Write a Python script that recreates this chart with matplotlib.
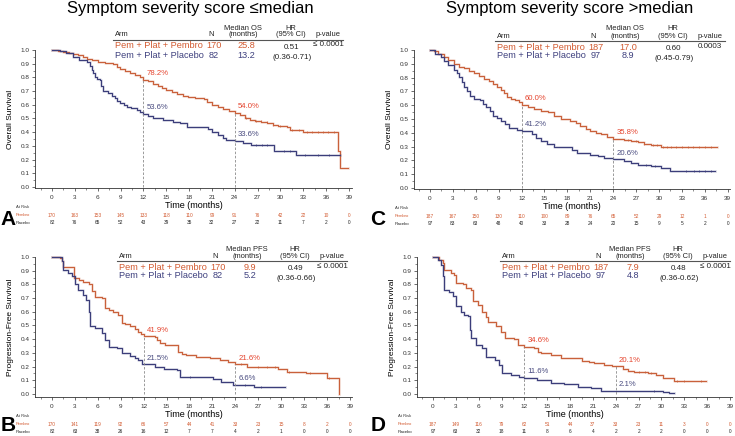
import numpy as np
import matplotlib
matplotlib.use("Agg")
import matplotlib.pyplot as plt
from matplotlib.ticker import MultipleLocator

plt.rcParams['font.family'] = ['Liberation Sans', 'DejaVu Sans']

PEMBRO = '#C9603A'
PLACEBO = '#3B3D7A'
PEMBRO_TXT = '#D25A30'
PLACEBO_TXT = '#3E407E'
PCT_RED = '#E5442E'
PCT_NAVY = '#4A4C80'

# ---- data ----
risk_times = list(range(0, 40, 3))

# A : OS, score <= median
a_pem_t = [0, 0.8, 1.5, 2.2, 2.8, 3.4, 4.1, 4.6, 5.2, 6.1, 7.0, 8.0, 8.5, 8.9, 9.6, 10.2, 10.9, 11.5, 12.0,
           12.6, 13.3, 13.9, 14.5, 15.0, 15.7, 16.4, 17.2, 17.8, 18.8, 19.9, 20.4, 21.0, 21.8, 22.5, 23.2,
           24.0, 24.7, 25.4, 26.0, 26.6, 27.5, 28.3, 29.0, 29.7, 30.8, 31.2, 32.2, 33.0, 37.5, 37.8, 38.9]
a_pem_s = [1.0, 0.995, 0.988, 0.98, 0.97, 0.96, 0.95, 0.935, 0.925, 0.91, 0.905, 0.895, 0.875, 0.86, 0.85,
           0.835, 0.82, 0.80, 0.782, 0.77, 0.755, 0.74, 0.72, 0.705, 0.69, 0.675, 0.665, 0.655, 0.65, 0.64,
           0.62, 0.60, 0.585, 0.567, 0.555, 0.54, 0.525, 0.505, 0.49, 0.482, 0.475, 0.465, 0.455, 0.445,
           0.44, 0.418, 0.416, 0.398, 0.26, 0.136, 0.136]
a_pla_t = [0, 1.0, 1.9, 2.8, 3.5, 4.55, 5.0, 5.2, 5.4, 5.7, 5.9, 6.3, 6.5, 6.7, 7.4, 7.9, 8.3, 8.6, 8.9, 9.4,
           9.8, 10.4, 11.1, 11.6, 12.0, 12.6, 13.3, 14.6, 15.9, 16.8, 17.7, 19.9, 20.5, 21.0, 21.8, 22.4,
           22.9, 24.0, 25.1, 26.2, 29.1, 32.0, 37.8]
a_pla_s = [1.0, 0.99, 0.976, 0.95, 0.93, 0.91, 0.88, 0.855, 0.83, 0.80, 0.787, 0.78, 0.74, 0.70, 0.685, 0.665,
           0.647, 0.63, 0.61, 0.595, 0.586, 0.575, 0.562, 0.55, 0.536, 0.52, 0.50, 0.489, 0.477, 0.465, 0.44,
           0.436, 0.42, 0.404, 0.38, 0.36, 0.345, 0.336, 0.32, 0.307, 0.263, 0.234, 0.234]
a_pem_cens = [25.5, 26.8, 27.4, 28.2, 29.0, 30.0, 31.5, 32.5, 33.5, 34.2, 35.0, 35.6, 36.3, 37.0]
a_pla_cens = [26.8, 27.6, 28.3, 30.5, 31.3, 33.2, 35.0, 36.4]
a_risk_pem = [170, 163, 153, 145, 133, 118, 110, 99, 91, 76, 42, 22, 10, 0]
a_risk_pla = [82, 76, 65, 52, 43, 39, 35, 32, 27, 22, 11, 7, 2, 0]
a_pct = [('78.2%', 12, 0.782, PCT_RED), ('53.6%', 12, 0.536, PCT_NAVY),
         ('54.0%', 24, 0.540, PCT_RED), ('33.6%', 24, 0.336, PCT_NAVY)]

# C : OS, score > median
c_pem_t = [0, 0.5, 1.0, 1.8, 2.4, 3.1, 3.8, 4.5, 5.1, 5.8, 6.4, 7.1, 7.7, 8.2, 8.8, 9.3, 9.7, 10.1, 10.6,
           11.2, 11.7, 12.0, 12.8, 13.6, 14.5, 15.4, 16.2, 17.1, 18.4, 19.1, 19.7, 20.4, 21.0, 21.7, 22.4,
           23.2, 24.0, 25.4, 26.3, 27.2, 28.0, 28.9, 30.2, 37.6]
c_pem_s = [1.0, 0.99, 0.97, 0.95, 0.925, 0.90, 0.88, 0.866, 0.85, 0.83, 0.81, 0.79, 0.775, 0.756, 0.73,
           0.707, 0.685, 0.66, 0.645, 0.634, 0.62, 0.60, 0.585, 0.573, 0.56, 0.549, 0.525, 0.50, 0.488, 0.47,
           0.451, 0.43, 0.415, 0.40, 0.39, 0.372, 0.358, 0.346, 0.338, 0.33, 0.32, 0.312, 0.30, 0.30]
c_pla_t = [0, 0.7, 1.4, 1.9, 2.3, 3.1, 3.5, 3.8, 4.2, 4.5, 4.9, 5.3, 5.8, 6.6, 7.0, 7.3, 7.8, 8.2, 8.8, 9.3,
           9.8, 10.3, 11.4, 12.0, 13.4, 13.9, 14.5, 15.3, 16.2, 18.0, 18.6, 19.3, 21.0, 22.0, 22.8, 24.0,
           25.4, 26.3, 27.2, 28.9, 30.2, 31.5, 37.4]
c_pla_s = [1.0, 0.97, 0.95, 0.92, 0.89, 0.855, 0.83, 0.805, 0.765, 0.73, 0.70, 0.67, 0.646, 0.64, 0.61,
           0.585, 0.555, 0.524, 0.505, 0.488, 0.46, 0.434, 0.42, 0.412, 0.39, 0.365, 0.341, 0.32, 0.298,
           0.298, 0.275, 0.256, 0.239, 0.23, 0.22, 0.206, 0.195, 0.18, 0.166, 0.159, 0.146, 0.122, 0.122]
c_pem_cens = [26.0, 27.0, 28.0, 29.2, 29.8, 30.5, 31.0, 31.6, 32.2, 33.0, 33.8, 34.5, 35.2, 36.0, 36.8]
c_pla_cens = [28.3, 29.5, 33.5, 34.6, 35.2, 36.0, 36.8]
c_risk_pem = [187, 167, 150, 130, 110, 100, 89, 76, 65, 52, 29, 12, 1, 0]
c_risk_pla = [97, 83, 63, 48, 40, 33, 28, 24, 20, 15, 9, 5, 2, 0]
c_pct = [('60.0%', 12, 0.600, PCT_RED), ('41.2%', 12, 0.412, PCT_NAVY),
         ('35.8%', 24, 0.358, PCT_RED), ('20.6%', 24, 0.206, PCT_NAVY)]

# B : PFS, score <= median
b_pem_t = [0, 1.0, 1.3, 1.5, 2.9, 3.5, 4.1, 4.8, 5.2, 5.6, 6.6, 6.9, 7.5, 8.0, 8.7, 9.1, 9.6, 10.2, 10.8,
           11.3, 11.7, 12.0, 13.5, 13.8, 14.1, 14.8, 16.5, 17.0, 17.6, 18.9, 20.7, 22.0, 23.0, 24.0, 25.5,
           27.7, 29.6, 30.7, 33.3, 36.0, 37.5]
b_pem_s = [1.0, 0.99, 0.968, 0.93, 0.846, 0.835, 0.82, 0.80, 0.75, 0.71, 0.70, 0.627, 0.615, 0.60, 0.578,
           0.517, 0.51, 0.498, 0.475, 0.456, 0.44, 0.424, 0.415, 0.395, 0.37, 0.358, 0.31, 0.295, 0.285,
           0.273, 0.26, 0.249, 0.235, 0.218, 0.20, 0.195, 0.183, 0.163, 0.156, 0.115, 0.0]
b_pla_t = [0, 1.3, 1.5, 2.1, 2.6, 3.0, 3.4, 4.1, 4.5, 4.8, 5.0, 5.6, 6.5, 6.9, 7.4, 8.5, 9.1, 10.2, 10.8,
           11.3, 11.8, 13.5, 14.6, 16.3, 16.8, 21.1, 22.1, 23.7, 26.4, 30.5]
b_pla_s = [1.0, 0.968, 0.907, 0.883, 0.858, 0.80, 0.76, 0.724, 0.688, 0.60, 0.498, 0.48, 0.444, 0.395,
           0.346, 0.334, 0.298, 0.278, 0.26, 0.249, 0.217, 0.20, 0.18, 0.176, 0.122, 0.112, 0.09, 0.068,
           0.049, 0.049]
b_pem_cens = [24.8, 27.0, 28.2, 29.2, 31.0, 33.8, 36.2]
b_pla_cens = [18.1, 25.2, 27.3]
b_risk_pem = [170, 141, 119, 92, 66, 57, 44, 41, 33, 23, 15, 8, 2, 0]
b_risk_pla = [82, 63, 38, 26, 16, 12, 7, 7, 4, 2, 1, 0, 0, 0]
b_pct = [('41.9%', 12, 0.419, PCT_RED), ('21.5%', 12, 0.215, PCT_NAVY),
         ('21.6%', 24, 0.216, PCT_RED), ('6.6%', 24, 0.066, PCT_NAVY)]

# D : PFS, score > median
d_pem_t = [0, 0.8, 1.3, 1.5, 2.4, 2.8, 3.0, 3.9, 4.3, 5.0, 5.2, 5.9, 6.5, 6.9, 7.2, 8.3, 8.9, 9.4, 10.7,
           11.1, 12.0, 13.3, 13.8, 14.2, 15.5, 16.8, 19.4, 19.6, 20.5, 21.2, 22.5, 23.5, 24.9, 25.6, 26.4,
           28.2, 29.3, 30.2, 31.7, 35.8]
d_pem_s = [1.0, 0.98, 0.956, 0.907, 0.883, 0.87, 0.81, 0.80, 0.773, 0.76, 0.676, 0.65, 0.602, 0.56, 0.529,
           0.493, 0.456, 0.407, 0.40, 0.358, 0.346, 0.334, 0.31, 0.298, 0.285, 0.266, 0.26, 0.241, 0.23,
           0.224, 0.212, 0.203, 0.18, 0.17, 0.163, 0.151, 0.135, 0.115, 0.095, 0.095]
d_pla_t = [0, 0.6, 1.05, 1.3, 1.5, 2.1, 2.6, 3.0, 3.7, 4.1, 4.55, 4.8, 5.0, 5.65, 6.5, 7.0, 8.1, 8.7, 9.1,
           10.2, 11.3, 11.9, 13.7, 15.5, 17.2, 19.0, 20.7, 22.1, 30.2, 31.0, 31.7]
d_pla_s = [1.0, 0.98, 0.944, 0.858, 0.76, 0.741, 0.712, 0.639, 0.602, 0.578, 0.566, 0.468, 0.407, 0.358,
           0.334, 0.273, 0.249, 0.212, 0.151, 0.139, 0.127, 0.116, 0.102, 0.083, 0.073, 0.054, 0.044, 0.021,
           0.012, 0.006, 0.006]
d_pem_cens = [27.0, 27.8, 28.6, 32.0, 33.0, 35.2]
d_pla_cens = [29.0]
d_risk_pem = [187, 149, 116, 79, 62, 51, 44, 37, 33, 23, 11, 3, 0, 0]
d_risk_pla = [97, 63, 32, 18, 11, 8, 6, 4, 2, 2, 2, 0, 0, 0]
d_pct = [('34.6%', 12, 0.346, PCT_RED), ('11.6%', 12, 0.116, PCT_NAVY),
         ('20.1%', 24, 0.201, PCT_RED), ('2.1%', 24, 0.021, PCT_NAVY)]

# table contents
tab_a = ['OS', '170', '82', '25.8', '13.2', '0.51', '(0.36-0.71)', '\u2264 0.0001']
tab_c = ['OS', '187', '97', '17.0', '8.9', '0.60', '(0.45-0.79)', '0.0003']
tab_b = ['PFS', '170', '82', '9.9', '5.2', '0.49', '(0.36-0.66)', '\u2264 0.0001']
tab_d = ['PFS', '187', '97', '7.9', '4.8', '0.48', '(0.36-0.62)', '\u2264 0.0001']

W, H = 735, 436
fig = plt.figure(figsize=(W / 100, H / 100), dpi=100)


def fx(x):
    return x / W


def fy(y):
    return 1 - y / H


def step_val(t, s, c):
    i = np.searchsorted(t, c, side='right') - 1
    return s[i]


def panel(box, xlim, ylim, ylabel, pem, pla, pem_c, pla_c, r_pem, r_pla, pcts, letter, letter_xy):
    left, top, right, bottom = box
    ax = fig.add_axes([fx(left), fy(bottom), fx(right) - fx(left), fy(top) - fy(bottom)])
    hpx = bottom - top
    ax.set_xlim(*xlim)
    ax.set_ylim(*ylim)
    for sp in ['top', 'right']:
        ax.spines[sp].set_visible(False)
    for sp in ['left', 'bottom']:
        ax.spines[sp].set_linewidth(0.6)
        ax.spines[sp].set_color('#333333')
    ax.set_xticks(risk_times)
    ax.xaxis.set_minor_locator(MultipleLocator(1.5))
    ax.set_yticks(np.arange(0, 1.01, 0.1))
    ax.set_yticklabels(['%.1f' % v for v in np.arange(0, 1.01, 0.1)])
    ax.yaxis.set_minor_locator(MultipleLocator(0.05))
    ax.tick_params(which='major', length=2.2, width=0.5, labelsize=4.6, pad=1.5, colors='#333333')
    ax.tick_params(which='minor', length=1.2, width=0.4, colors='#333333')
    ax.tick_params(axis='x', pad=3)

    for (t, s), col in [(pem, PEMBRO), (pla, PLACEBO)]:
        ax.step(t, s, where='post', color=col, lw=2.0, alpha=0.18, clip_on=False)
        ax.step(t, s, where='post', color=col, lw=0.8, clip_on=False)
    for cens, (t, s), col in [(pem_c, pem, PEMBRO), (pla_c, pla, PLACEBO)]:
        cy = [step_val(t, s, c) for c in cens]
        ax.plot(cens, cy, ls='none', marker='|', ms=2.0, mew=0.5, color=col)

    for tm in (12, 24):
        top_val = max(step_val(pem[0], pem[1], tm), step_val(pla[0], pla[1], tm))
        ax.plot([tm, tm], [0, top_val], ls=(0, (3, 2)), color='#8A8A8A', lw=0.6)
    for txt, tm, v, col in pcts:
        ax.text(tm + 0.4, v + 0.045, txt, color=col, fontsize=5.6, ha='left', va='center')

    ax.set_ylabel(ylabel, fontsize=6)
    ax.yaxis.set_label_coords(-0.066, 0.5)
    ax.set_xlabel('Time (months)', fontsize=6.5)
    ax.xaxis.set_label_coords(0.5, -17 / hpx)
    ax.xaxis.label.set_va('center')

    tr = ax.get_xaxis_transform()
    xl = -19 / (right - left)
    ax.text(xl, -18.5 / hpx, 'At Risk', transform=ax.transAxes, fontsize=3.0, va='center', color='#333333')
    ax.text(xl, -27 / hpx, 'Pembro', transform=ax.transAxes, fontsize=3.0, va='center', color=PEMBRO_TXT)
    ax.text(xl, -34.5 / hpx, 'Placebo', transform=ax.transAxes, fontsize=3.0, va='center', color='#222222')
    for tm, rp, rq in zip(risk_times, r_pem, r_pla):
        ax.text(tm, -27 / hpx, str(rp), transform=tr, fontsize=3.4, ha='center', va='center', color=PEMBRO_TXT)
        ax.text(tm, -34.5 / hpx, str(rq), transform=tr, fontsize=3.4, ha='center', va='center', color='#222222')

    fig.text(fx(letter_xy[0]), fy(letter_xy[1]), letter, fontsize=15, fontweight='bold',
             ha='center', va='bottom')
    return ax


def table(x0, y0, vals):
    endpoint, n1, n2, m1, m2, hr, ci, p = vals
    hs = 5.4
    rs = 6.6
    fig.text(fx(x0 + 128), fy(y0 - 18), 'Median ' + endpoint, fontsize=hs, ha='center', va='center', color='#222222')
    fig.text(fx(x0 + 176), fy(y0 - 18), 'HR', fontsize=hs, ha='center', va='center', color='#222222')
    fig.text(fx(x0), fy(y0 - 11), 'Arm', fontsize=hs, ha='left', va='center', color='#222222')
    fig.text(fx(x0 + 96), fy(y0 - 11), 'N', fontsize=hs, ha='center', va='center', color='#222222')
    fig.text(fx(x0 + 128), fy(y0 - 11), '(months)', fontsize=hs, ha='center', va='center', color='#222222')
    fig.text(fx(x0 + 176), fy(y0 - 11), '(95% CI)', fontsize=hs, ha='center', va='center', color='#222222')
    fig.text(fx(x0 + 213), fy(y0 - 11), 'p-value', fontsize=hs, ha='center', va='center', color='#222222')
    fig.add_artist(plt.Line2D([fx(x0 - 2), fx(x0 + 228)], [fy(y0 - 6), fy(y0 - 6)],
                              color='#555555', lw=0.8))
    fig.text(fx(x0), fy(y0), 'Pem + Plat + Pembro', fontsize=rs, ha='left', va='center', color=PEMBRO_TXT)
    fig.text(fx(x0), fy(y0 + 9), 'Pem + Plat + Placebo', fontsize=rs, ha='left', va='center', color=PLACEBO_TXT)
    fig.text(fx(x0 + 99), fy(y0), n1, fontsize=rs, ha='center', va='center', color=PEMBRO_TXT)
    fig.text(fx(x0 + 99), fy(y0 + 9), n2, fontsize=rs, ha='center', va='center', color=PLACEBO_TXT)
    fig.text(fx(x0 + 131), fy(y0), m1, fontsize=rs, ha='center', va='center', color=PEMBRO_TXT)
    fig.text(fx(x0 + 131), fy(y0 + 9), m2, fontsize=rs, ha='center', va='center', color=PLACEBO_TXT)
    fig.text(fx(x0 + 177), fy(y0 + 1.5), hr, fontsize=5.8, ha='center', va='center', color='#222222')
    fig.text(fx(x0 + 177), fy(y0 + 11), ci, fontsize=5.8, ha='center', va='center', color='#222222')
    fig.text(fx(x0 + 213), fy(y0 - 1), p, fontsize=5.8, ha='center', va='center', color='#222222')


fig.text(fx(190), fy(9), 'Symptom severity score \u2264median', fontsize=12, ha='center', va='center')
fig.text(fx(570), fy(9), 'Symptom severity score >median', fontsize=12, ha='center', va='center')

panel((35, 50, 352, 188), (-2.23, 39.4), (-0.008, 1.0), 'Overall Survival',
      (a_pem_t, a_pem_s), (a_pla_t, a_pla_s), a_pem_cens, a_pla_cens, a_risk_pem, a_risk_pla, a_pct,
      'A', (8, 229))
panel((414, 50, 730, 189), (-2.09, 39.3), (-0.008, 1.0), 'Overall Survival',
      (c_pem_t, c_pem_s), (c_pla_t, c_pla_s), c_pem_cens, c_pla_cens, c_risk_pem, c_risk_pla, c_pct,
      'C', (378, 229))
panel((35, 257, 352, 397), (-2.22, 39.26), (-0.022, 1.0), 'Progression-Free Survival',
      (b_pem_t, b_pem_s), (b_pla_t, b_pla_s), b_pem_cens, b_pla_cens, b_risk_pem, b_risk_pla, b_pct,
      'B', (8, 435))
panel((417, 257, 732, 397), (-2.1, 39.26), (-0.022, 1.0), 'Progression-Free Survival',
      (d_pem_t, d_pem_s), (d_pla_t, d_pla_s), d_pem_cens, d_pla_cens, d_risk_pem, d_risk_pla, d_pct,
      'D', (378, 435))

table(115, 46, tab_a)
table(497, 47, tab_c)
table(119, 267, tab_b)
table(502, 267, tab_d)

fig.savefig('out.png', dpi=100)
